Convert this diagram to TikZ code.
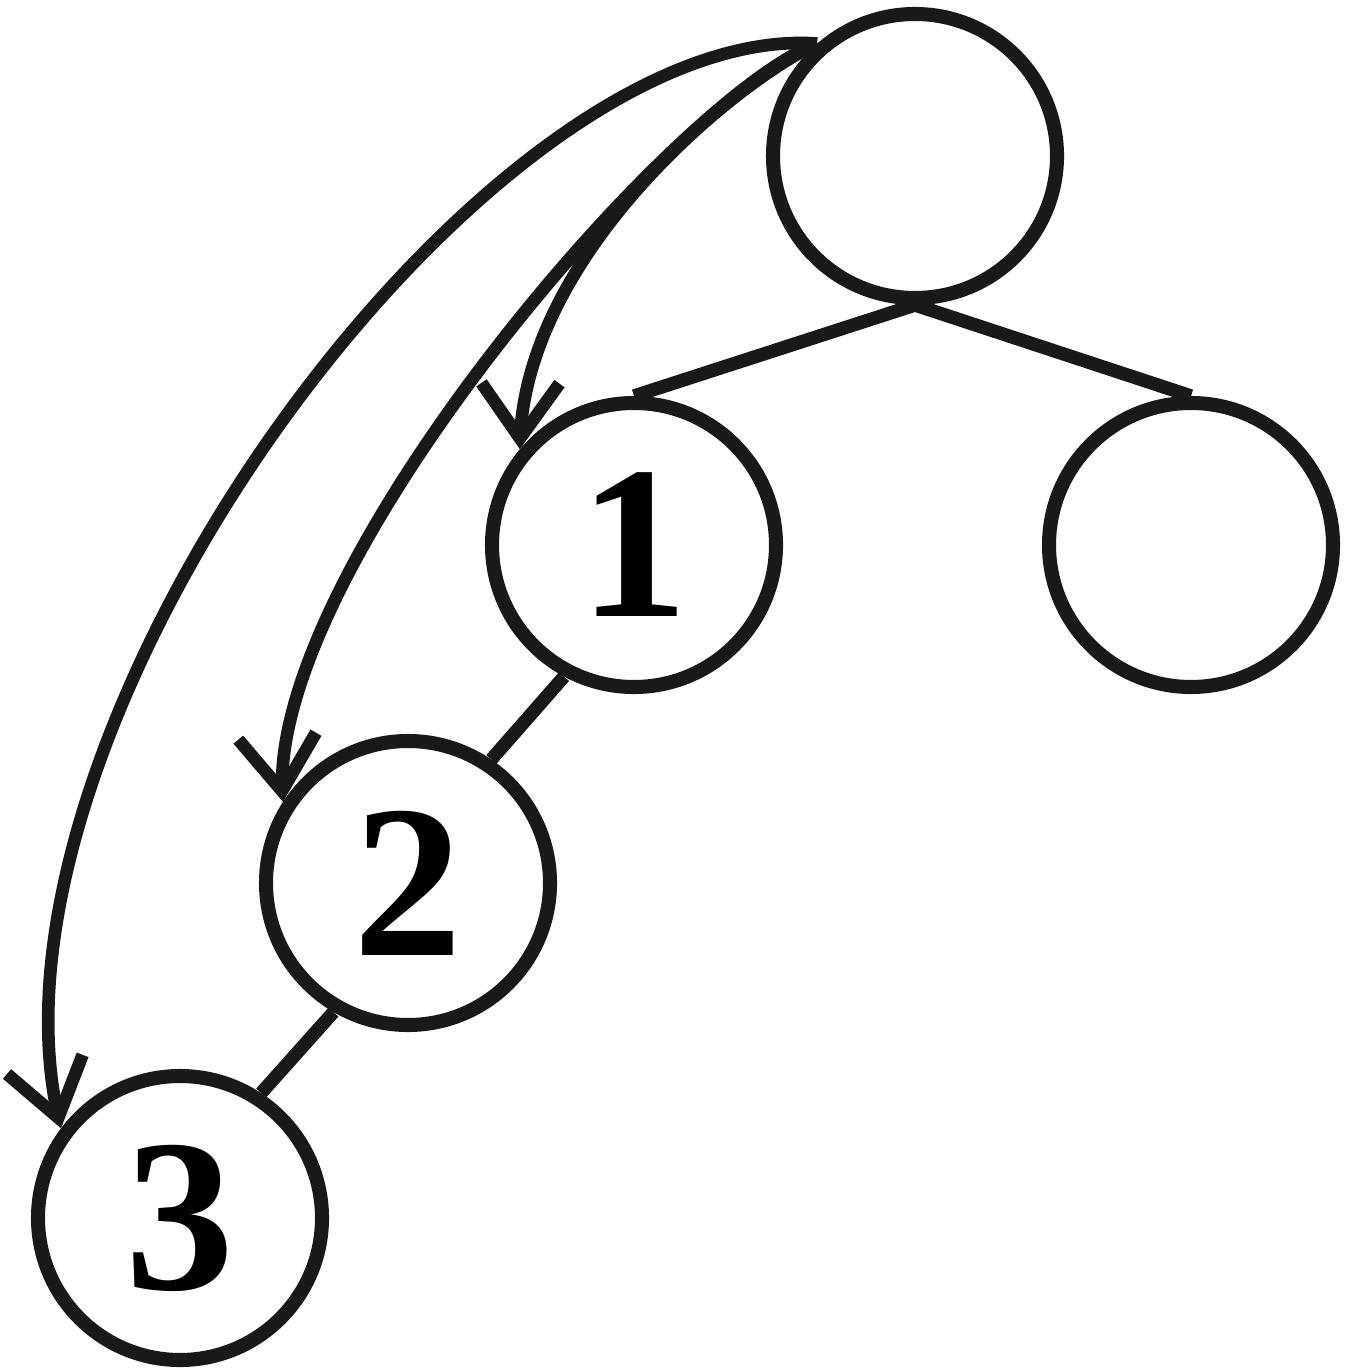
\documentclass[tikz,border=0pt]{standalone}
\usepackage{fontspec}
\setmainfont{Liberation Serif}
\usetikzlibrary{arrows.meta, bending, positioning}

\begin{document}
\begin{tikzpicture}[
        vertex/.style={circle, draw=black!90, line width=4pt, minimum size=2.84cm, inner sep=0pt, font=\fontsize{62}{62}\selectfont\bfseries},
        edge/.style={draw=black!90, line width=3.8pt},
        jump/.style={-{Straight Barb[length=5.5mm, width=7.8mm, flex]}, draw=black!90, line width=3.6pt}
    ]
        \useasboundingbox (0,0) rectangle (13.45,-13.69);

        \node[vertex] (root) at (9.15,-1.56) {};
        \node[vertex] (one) at (6.34,-5.45) {1};
        \node[vertex] (right) at (11.91,-5.45) {};
        \node[vertex] (two) at (4.08,-8.83) {2};
        \node[vertex] (three) at (1.80,-12.18) {3};

        \draw[edge] (root.south) -- (one.north);
        \draw[edge] (root.south) -- (right.north);
        \draw[edge] (one.-118) -- (two.56);
        \draw[edge] (two.-120) -- (three.57);

        % jumps from the root
        \draw[jump] (root.131) .. controls (7.3,-0.85) and (5.2,-2.6) .. (one.140);
        \draw[jump] (root.131) .. controls (6.7,-1.0) and (2.6,-5.8) .. (two.147);
        \draw[jump] (root.131) .. controls (4.8,-0.2) and (-0.4,-7.4) .. (three.143);
    \end{tikzpicture}
\end{document}
